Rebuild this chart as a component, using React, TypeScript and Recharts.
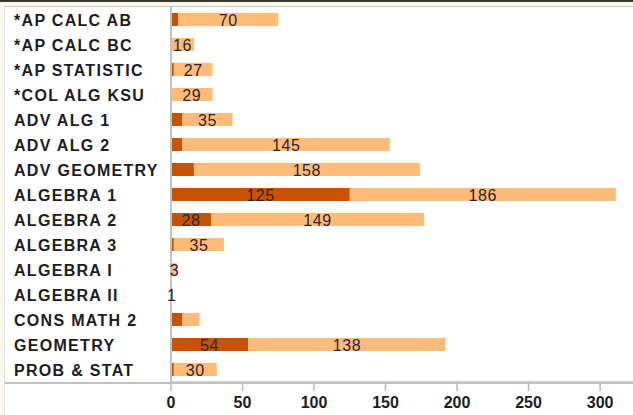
import { BarChart, Bar, XAxis, YAxis, LabelList } from 'recharts';

// ─── Data ───────────────────────────────────────────────────────────────────
const courses = [
  '*AP CALC AB',
  '*AP CALC BC',
  '*AP STATISTIC',
  '*COL ALG KSU',
  'ADV ALG 1',
  'ADV ALG 2',
  'ADV GEOMETRY',
  'ALGEBRA 1',
  'ALGEBRA 2',
  'ALGEBRA 3',
  'ALGEBRA I',
  'ALGEBRA II',
  'CONS MATH 2',
  'GEOMETRY',
  'PROB & STAT',
];
const darkValues = [5, 0, 2, 0, 8, 8, 16, 125, 28, 2, 1, 0, 8, 54, 2];
const lightValues = [70, 16, 27, 29, 35, 145, 158, 186, 149, 35, 3, 1, 12, 138, 30];
const xTicks = [0, 50, 100, 150, 200, 250, 300];

// small segments get no label, except when the bar is almost all one colour
const data = courses.map((course, i) => ({
  course,
  dark: darkValues[i],
  light: lightValues[i],
  darkLabel: darkValues[i] >= 20 ? darkValues[i] : null,
  lightLabel: lightValues[i] >= 13 || darkValues[i] < 3 ? lightValues[i] : null,
}));

const FONT = 'Arial, "Liberation Sans", sans-serif';
const TEXT = '#1c1c24';

// category labels sit flush left, not against the axis
const CourseTick = ({ y, payload }: any) => (
  <text
    x={9}
    y={y}
    dy={1}
    dominantBaseline="central"
    textAnchor="start"
    style={{ fontFamily: FONT, fontSize: 16, fontWeight: 700, letterSpacing: 1.3 }}
    fill={TEXT}
  >
    {payload.value}
  </text>
);

const SegmentLabel = (props: any) => {
  const { x, y, width, height, value } = props;
  if (value === null || value === undefined || value === '') return null;
  return (
    <text
      x={x + width / 2}
      y={y + height / 2 + 1}
      dominantBaseline="central"
      textAnchor="middle"
      style={{ fontFamily: FONT, fontSize: 16, letterSpacing: 0.6 }}
      fill="#2a2630"
    >
      {value}
    </text>
  );
};

export default function App() {
  return (
    <div
      style={{
        position: 'absolute',
        left: 0,
        top: 0,
        width: 633,
        height: 415,
        background: '#fdf9ea',
        overflow: 'hidden',
      }}
    >
      <div style={{ position: 'absolute', left: 0, top: 0, width: 633, height: 2, background: '#3a3828' }} />
      <div
        style={{
          position: 'absolute',
          left: 4,
          top: 6,
          width: 629,
          height: 409,
          background: '#ffffff',
          borderTop: '1px solid #c4c4c4',
          borderLeft: '1px solid #e2e2e2',
        }}
      >
        <div style={{ position: 'absolute', left: 0, top: 375, width: 629, height: 2, background: '#c2c2c2' }} />
        <BarChart
          width={628}
          height={408}
          data={data}
          layout="vertical"
          margin={{ top: 0, right: 0, bottom: 0, left: 0 }}
          barSize={13}
        >
          <XAxis
            type="number"
            domain={[0, 323]}
            ticks={xTicks}
            allowDataOverflow
            height={33}
            axisLine={{ stroke: '#c2c2c2', strokeWidth: 1.5 }}
            tickLine={{ stroke: '#b8b8b8', strokeWidth: 1.5 }}
            tickSize={9}
            tickMargin={6}
            tick={{ fill: TEXT, fontSize: 16, fontWeight: 'bold', fontFamily: FONT }}
          />
          <YAxis
            type="category"
            dataKey="course"
            width={166}
            interval={0}
            axisLine={{ stroke: '#c2c2c2', strokeWidth: 2 }}
            tickLine={false}
            tick={<CourseTick />}
          />
          <Bar dataKey="dark" stackId="a" fill="#c75200" isAnimationActive={false}>
            <LabelList dataKey="darkLabel" content={<SegmentLabel />} />
          </Bar>
          <Bar dataKey="light" stackId="a" fill="#ffbb78" isAnimationActive={false}>
            <LabelList dataKey="lightLabel" content={<SegmentLabel />} />
          </Bar>
        </BarChart>
      </div>
    </div>
  );
}
